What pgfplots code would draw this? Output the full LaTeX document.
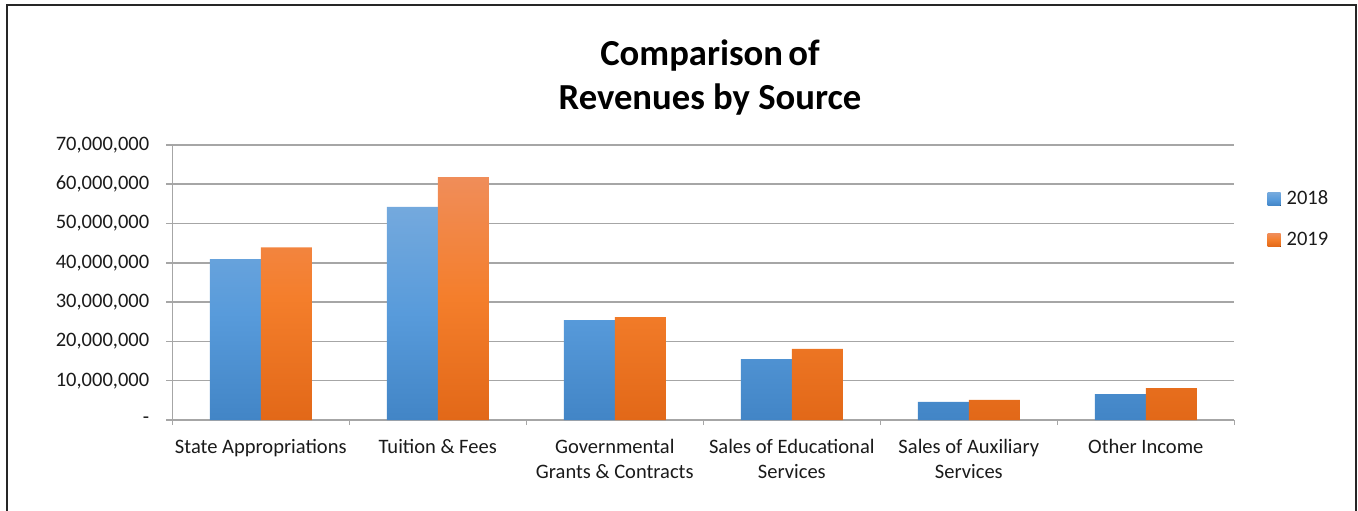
\documentclass[border=0pt]{standalone}
\usepackage{fontspec}
\setmainfont{Carlito}
\usepackage{pgfplots}
\pgfplotsset{compat=1.18}

\definecolor{gridgray}{HTML}{A6A6A6}
\definecolor{txt}{HTML}{1A1A1A}
\definecolor{blueTop}{HTML}{74A9DD}
\definecolor{blueMid}{HTML}{589BDB}
\definecolor{blueBot}{HTML}{4285C6}
\definecolor{orTop}{HTML}{F08D59}
\definecolor{orMid}{HTML}{F47E2B}
\definecolor{orBot}{HTML}{E26818}

\newcommand{\lblfont}{\fontsize{10.3}{12.5}\selectfont}

\begin{document}
\begin{tikzpicture}[x=1bp,y=1bp]
\useasboundingbox (0,0) rectangle (679,255);
% outer chart frame (bottom edge is cut off in the reference)
\draw[line width=1.1bp, black!85] (3.6,-2) -- (3.6,252.6) -- (677.9,252.6) -- (677.9,-2);

% title
\node[anchor=base, font=\fontsize{18.4}{22}\selectfont\bfseries, text=black] at (355,222.5) {Comparison\hspace{-1.5bp} of};
\node[anchor=base, font=\fontsize{18.4}{22}\selectfont\bfseries, text=black] at (355,200.5) {Revenues by Source};

\begin{axis}[
  at={(86.15bp,45bp)}, anchor=south west,
  scale only axis, width=531bp, height=137.6bp,
  ybar, bar width=25.5bp,
  xmin=-0.5, xmax=5.5,
  ymin=0, ymax=70000000,
  axis x line*=bottom, axis y line*=left,
  axis line style={gridgray, line width=0.75bp},
  ymajorgrids, grid style={gridgray, line width=0.75bp},
  tick align=outside,
  tick style={gridgray, line width=0.75bp},
  major tick length=3bp, minor tick length=2.6bp,
  scaled y ticks=false,
  ytick={0,10000000,20000000,30000000,40000000,50000000,60000000,70000000},
  yticklabels={{-\hspace{4.5bp}},{10,000,000},{20,000,000},{30,000,000},{40,000,000},{50,000,000},{60,000,000},{70,000,000}},
  yticklabel style={font=\lblfont, text=txt, xshift=-5bp},
  xtick={0,1,2,3,4,5},
  major x tick style={draw=none},
  minor xtick={-0.5,0.5,1.5,2.5,3.5,4.5,5.5},
  xticklabels={{State Appropriations},{Tuition \& Fees},{Governmental\\Grants \& Contracts},{Sales of Educational\\Services},{Sales of Auxiliary\\Services},{Other Income}},
  xticklabel style={font=\lblfont, text=txt, align=center, anchor=north, yshift=-3bp},
  legend image code/.code={\fill[#1] (0bp,-3.25bp) rectangle (6.5bp,3.25bp);},
  legend style={at={(1.031,0.845)}, anchor=north west, draw=none, fill=none,
    font=\lblfont, text=txt, row sep=9bp, column sep=1.5bp, inner sep=0bp,
    nodes={inner sep=1.5bp}},
  legend cell align=left,
]
\addplot[bar shift=-12.75bp, draw=none, top color=blueTop, bottom color=blueBot, middle color=blueMid]
  coordinates {(0,40900000) (1,54200000) (2,25400000) (3,15500000) (4,4600000) (5,6600000)};
\addplot[bar shift=12.75bp, draw=none, top color=orTop, bottom color=orBot, middle color=orMid]
  coordinates {(0,43900000) (1,61800000) (2,26200000) (3,18100000) (4,5100000) (5,8100000)};
\legend{2018,2019}
\end{axis}
\end{tikzpicture}
\end{document}
